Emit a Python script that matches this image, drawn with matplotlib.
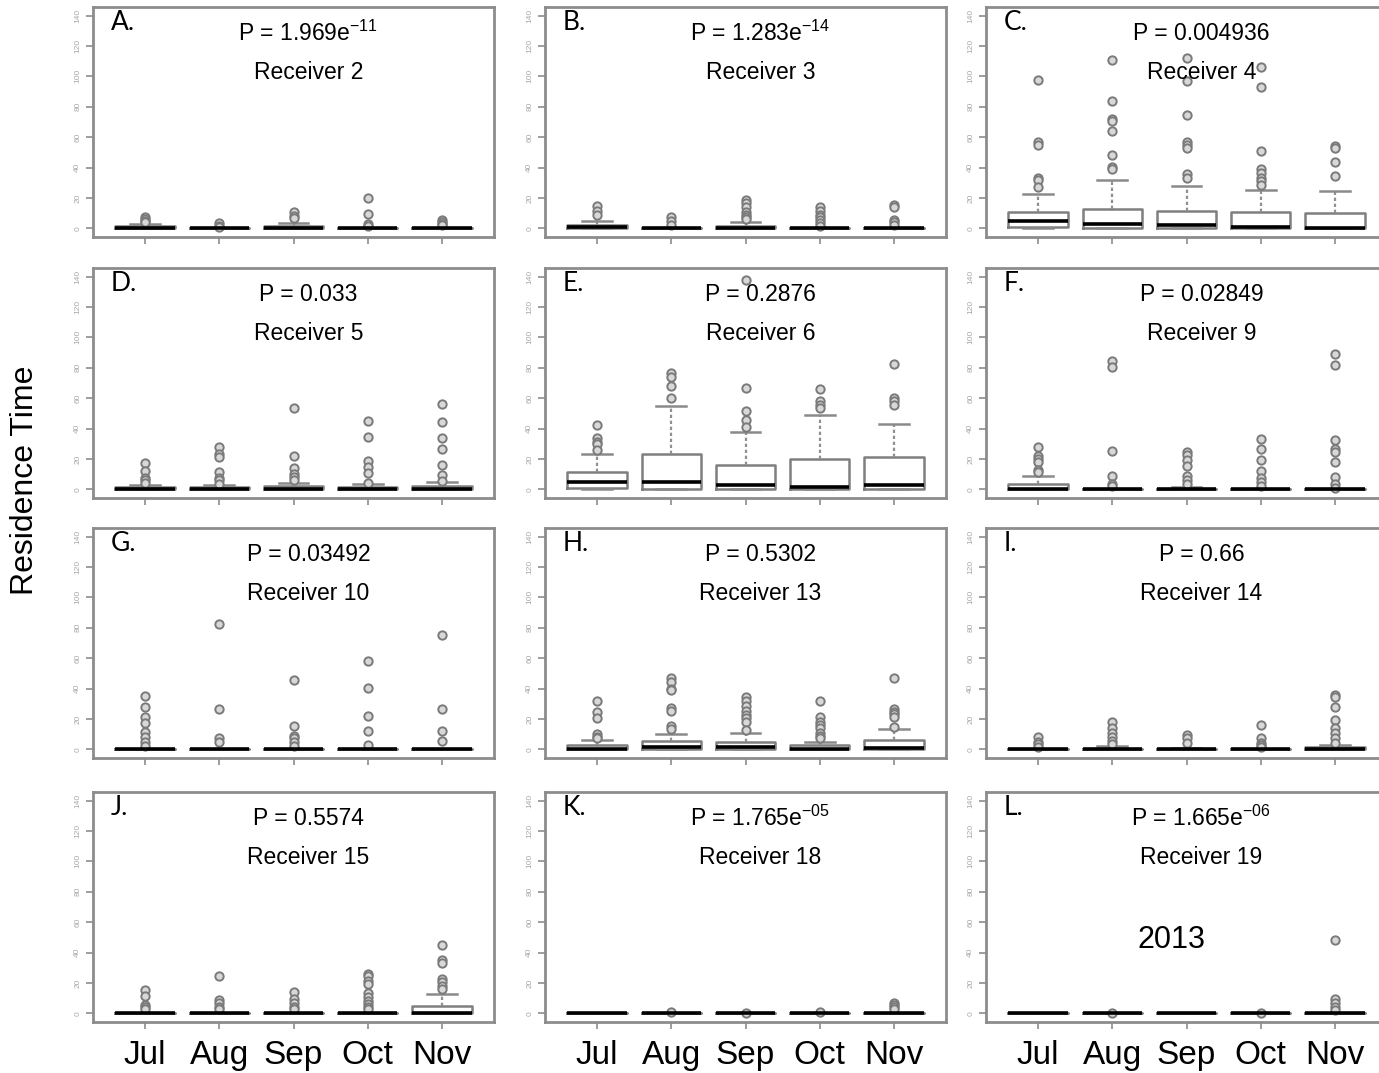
import matplotlib
matplotlib.use("Agg")
import matplotlib.pyplot as plt

# panel info
letters = ["A.", "B.", "C.", "D.", "E.", "F.", "G.", "H.", "I.", "J.", "K.", "L."]
receivers = [2, 3, 4, 5, 6, 9, 10, 13, 14, 15, 18, 19]
p_values = ["1.969e-11", "1.283e-14", "0.004936", "0.033", "0.2876", "0.02849",
            "0.03492", "0.5302", "0.66", "0.5574", "1.765e-05", "1.665e-06"]
months = ["Jul", "Aug", "Sep", "Oct", "Nov"]

# box statistics (one row per receiver, one column per month)
q1 = [
    [0, 0, 0, 0, 0],
    [0, 0, 0, 0, 0],
    [1, 0.4, 0.4, 0.3, 0],
    [0, 0, 0, 0, 0],
    [0.7, 0, 0, 0, 0],
    [0, 0, 0, 0, 0],
    [0, 0, 0, 0, 0],
    [0, 0, 0, 0, 0],
    [0, 0, 0, 0, 0],
    [0, 0, 0, 0, 0],
    [0, 0, 0, 0, 0],
    [0, 0, 0, 0, 0],
]
median = [
    [0.5, 0, 0.5, 0, 0],
    [1, 0, 0.5, 0, 0],
    [4.9, 3.1, 2.2, 1.1, 0],
    [0.3, 0.3, 0.3, 0.3, 0.3],
    [5.1, 4.7, 2.9, 1.8, 2.9],
    [0.5, 0, 0, 0, 0],
    [0, 0, 0, 0, 0],
    [0.5, 1.5, 1.5, 0.5, 1],
    [0, 0, 0, 0, 0],
    [0, 0, 0, 0, 0],
    [0, 0, 0, 0, 0],
    [0, 0, 0, 0, 0],
]
q3 = [
    [1.5, 0.3, 1.5, 0.3, 0.3],
    [2.4, 0.3, 1.5, 0.3, 0.3],
    [11.1, 12.9, 11.6, 11.1, 10.4],
    [1.5, 1.5, 2, 1.5, 2],
    [11.3, 23.1, 16.2, 20.2, 21.3],
    [3.6, 0.3, 0.5, 0.3, 0.3],
    [0, 0, 0, 0, 0],
    [2.7, 5.6, 5.1, 2.7, 6],
    [0.3, 0.5, 0.3, 0.3, 1.5],
    [0, 0, 0, 0, 4.9],
    [0, 0, 0, 0, 0],
    [0, 0, 0, 0, 0],
]
whisker_hi = [
    [3, 0.5, 3.5, 0.5, 0.5],
    [5, 0.5, 4, 0.5, 0.5],
    [22.7, 32.2, 28.2, 25.6, 24.4],
    [2.7, 2.7, 4, 3.3, 4.9],
    [23.1, 54.7, 38, 49.1, 43.1],
    [8.7, 0.5, 1.8, 0.5, 0.5],
    [0, 0, 0, 0, 0],
    [6, 10, 11.1, 4.9, 13.3],
    [0.5, 2.2, 0.9, 0.5, 2.9],
    [0, 0, 0, 0, 12.7],
    [0, 0, 0, 0, 0],
    [0, 0, 0, 0, 0],
]
outliers = [
    [[7.3, 6, 4.7, 4], [3.5, 1.8, 1], [11, 8.4, 6.7], [20.3, 9.6, 3.2, 1.8], [5.8, 4.4, 3.2, 2]],
    [[14.7, 11.8, 9.1], [7.8, 5.1, 2.4], [19, 16.9, 14, 11, 9, 7.3, 6.2],
     [14, 11.3, 9, 7.3, 5.5, 3.6, 1.8], [15.3, 14, 5.5, 4, 2.2]],
    [[97.3, 56.7, 55, 33.3, 31.6, 27], [110.7, 83.8, 72.2, 70.7, 63.8, 48.4, 40.4, 38.9],
     [111.8, 96.7, 74.4, 56.7, 55.1, 52.9, 35.6, 33.3], [106, 93.3, 50.7, 38.9, 36.7, 33.3, 31.1, 28.9],
     [54.4, 52.9, 44, 34.4]],
    [[17.1, 12.2, 7.3, 6, 4.4], [27.8, 23.3, 21.6, 11.8, 7.8, 6, 3.8], [53.3, 21.8, 14.4, 10, 8.2, 6],
     [45.1, 34.4, 18.4, 14.9, 10.7, 4.4], [56.2, 44.4, 33.8, 26.7, 16.2, 9.6, 5.6]],
    [[42.4, 34, 31.3, 29.6, 25.8], [76.7, 73.8, 68.2, 60.4], [137.6, 66.4, 51.8, 45.8, 41.3],
     [65.8, 58, 55.3, 53.6], [82.2, 60.2, 58, 55.3]],
    [[28, 21.8, 20.2, 18, 12.9, 11.3], [84.2, 80.2, 25.1, 8.7, 3.6, 2], [24.7, 22.4, 19.6, 15.3, 8.7, 6.4, 3.6],
     [33.1, 26.9, 19.6, 12, 7.6, 4.7, 2.4], [89.1, 82, 32.4, 26.9, 24.7, 18, 8, 3.6, 1.3]],
    [[35.1, 27.6, 21.3, 17.6, 11.3, 8, 4.7, 2], [82.4, 26.4, 7.3, 4.7], [45.8, 15.3, 9.1, 7.3, 4.7, 2.4],
     [58, 40.2, 21.8, 12.4, 3.1], [75.1, 26.9, 12.4, 5.3]],
    [[31.6, 24.4, 20.7, 10, 8.2, 7.3], [46.7, 44.4, 40, 38.9, 27.3, 25.6, 15.6, 13.3],
     [34.4, 31.8, 28.9, 25.6, 22.9, 20.4, 18.2, 12.9], [31.6, 21.1, 18.2, 16.2, 14, 11.1, 8.9, 7.3],
     [47.3, 26.7, 24.9, 23.3, 21.1, 14.9]],
    [[8.2, 4.9, 3.3, 1.8], [17.8, 14.4, 11.1, 8.2, 5.6, 3.8], [9.6, 7.3, 4.4], [16, 7.8, 4.4, 2.9, 1.6],
     [36, 34.4, 27.8, 19.3, 14.4, 11.1, 7.8, 4.4]],
    [[15.6, 11.6, 5.6, 4, 2.7], [24.9, 8.9, 6.7, 4.4, 2.7], [13.8, 9.3, 6.7, 4.4, 2.7],
     [26.2, 24.4, 21.1, 19.3, 13.3, 11.1, 8.4, 6.2, 4.4, 2.7], [44.9, 34.9, 33.3, 22.7, 20.4, 18.2, 16]],
    [[], [1.2], [0.5], [1], [6.7, 5.3, 4, 2.7]],
    [[], [0.6], [], [0.5], [48, 9.3, 6.7, 4, 2]],
]
yticks = [0, 20, 40, 60, 80, 100, 120, 140]

plt.rcParams['font.family'] = ['Liberation Sans', 'DejaVu Sans']

W, H = 1379, 1073
fig = plt.figure(figsize=(W / 100, H / 100), dpi=100)

col_left = [93, 545, 986]
row_top = [7, 268, 528, 792]
pw, ph = 401, 230
grey = '#8c8c8c'

for i in range(12):
    r, c = divmod(i, 3)
    ax = fig.add_axes([col_left[c] / W, 1 - (row_top[r] + ph) / H, pw / W, ph / H])
    stats = []
    for m in range(5):
        stats.append(dict(med=median[i][m], q1=q1[i][m], q3=q3[i][m],
                          whislo=0, whishi=whisker_hi[i][m], fliers=outliers[i][m]))
    ax.bxp(stats, positions=[1, 2, 3, 4, 5], widths=0.8, capwidths=0.4,
           boxprops=dict(color='#7f7f7f', lw=1.8),
           medianprops=dict(color='black', lw=2.6, solid_capstyle='butt'),
           whiskerprops=dict(color='#909090', lw=1.6, linestyle=(0, (1.5, 1.2))),
           capprops=dict(color='#8a8a8a', lw=1.8),
           flierprops=dict(marker='o', markersize=6, markerfacecolor='#d8d8d8',
                           markeredgecolor='#7a7a7a', markeredgewidth=1.4))
    ax.set_xlim(0.3, 5.7)
    ax.set_ylim(-5.6, 145.6)
    ax.set_yticks(yticks)
    ax.set_yticklabels([str(v) for v in yticks], rotation=90, fontsize=6,
                       color='#a8a8a8', va='center')
    ax.set_xticks([1, 2, 3, 4, 5])
    if r == 3:
        ax.set_xticklabels(months, fontsize=24)
        ax.tick_params(axis='x', pad=8)
    else:
        ax.set_xticklabels([])
    ax.tick_params(length=5, width=1.2, color=grey)
    for sp in ax.spines.values():
        sp.set_color(grey)
        sp.set_linewidth(2)

    ax.text(0.045, 0.985, letters[i], transform=ax.transAxes, ha='left', va='top',
            fontsize=19, family=['Lato', 'DejaVu Sans'])
    p = p_values[i]
    if 'e' in p:
        mant, ex = p.split('e')
        label = 'P = ' + mant + r'e$^{\mathregular{' + ex + '}}$'
    else:
        label = 'P = ' + p
    ax.text(3.2, 128.5, label, ha='center', va='center', fontsize=16.5)
    ax.text(3.2, 102.5, 'Receiver ' + str(receivers[i]), ha='center', va='center', fontsize=16.5)
    if i == 11:
        ax.text(2.8, 48, '2013', ha='center', va='center', fontsize=22)

fig.text(25 / W, 1 - 480 / H, 'Residence Time', rotation=90, ha='center', va='center', fontsize=23)

fig.savefig('out.png', dpi=100)
